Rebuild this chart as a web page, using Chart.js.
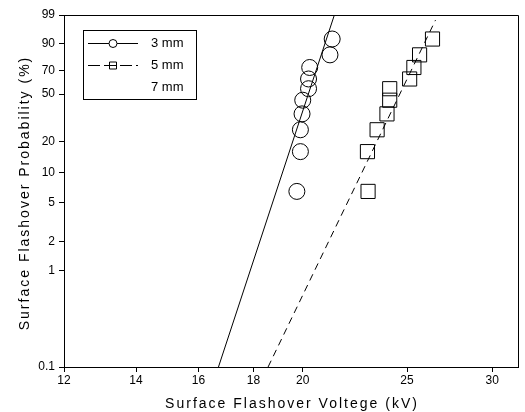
<!DOCTYPE html>
<html lang="en">
<head>
<meta charset="UTF-8" />
<title>Surface Flashover Probability</title>
<script src="https://cdn.jsdelivr.net/npm/chart.js"></script>
<style>
  html, body { margin: 0; padding: 0; background: #fff; }
  #wrap { width: 525px; height: 412px; }
</style>
</head>
<body>
<div id="wrap"><canvas id="chart" width="525" height="412"></canvas></div>
<script>
  const seriesNames = ['3 mm', '5 mm', '7 mm'];
  // flashover voltages (kV), in rank order, and their plotted probabilities (%)
  const volt3 = [19.75, 19.9, 19.9, 19.97, 20.0, 20.25, 20.25, 20.3, 21.2, 21.3];
  const volt5 = [23.0, 22.97, 23.45, 23.95, 24.09, 24.09, 25.14, 25.37, 25.68, 26.4];
  const rankProb = [6.5, 16, 25.5, 35, 45, 54.5, 63, 73, 83, 92.5];
  // fitted lines, end points
  const fit3Volt = [16.7, 21.4];
  const fit3Prob = [0.1, 99];
  const fit5Volt = [18.57, 26.57];
  const fit5Prob = [0.1, 98.3];

  const xTicks = [12, 14, 16, 18, 20, 25, 30];
  const yTicks = [0.1, 1, 2, 5, 10, 20, 50, 70, 90, 99];
  const xTitle = 'Surface Flashover Voltege (kV)';
  const yTitle = 'Surface Flashover Probability (%)';

  const FONT = '"Liberation Sans", Arial, sans-serif';

  // weibull probability axis
  const wb = p => Math.log(-Math.log(1 - p / 100));
  const pts = (vs, ps) => vs.map((v, i) => ({ x: v, y: wb(ps[i]) }));

  const frameAndText = {
    id: 'frameAndText',
    afterDraw(chart) {
      const { ctx, chartArea: a } = chart;
      ctx.save();
      ctx.strokeStyle = '#000';
      ctx.fillStyle = '#000';
      ctx.lineWidth = 1;
      // top + right of the frame
      const t = Math.round(a.top) + 0.5, r = Math.round(a.right) + 0.5;
      ctx.beginPath();
      ctx.moveTo(Math.round(a.left), t);
      ctx.lineTo(r, t);
      ctx.lineTo(r, Math.round(a.bottom));
      ctx.stroke();

      // axis titles (spaced out like the original)
      ctx.font = '14px ' + FONT;
      ctx.letterSpacing = '2px';
      ctx.textAlign = 'center';
      ctx.textBaseline = 'alphabetic';
      ctx.fillText(xTitle, (a.left + a.right) / 2 + 1, 408);
      ctx.save();
      ctx.translate(29, (a.top + a.bottom) / 2 + 2);
      ctx.rotate(-Math.PI / 2);
      ctx.fillText(yTitle, 0, 0);
      ctx.restore();

      // legend box
      ctx.letterSpacing = '0px';
      ctx.strokeRect(83.5, 30.5, 113, 69);
      const rows = [43, 65, 87];
      ctx.font = '13px ' + FONT;
      ctx.textAlign = 'left';
      ctx.textBaseline = 'middle';
      seriesNames.forEach((name, i) => {
        const y = rows[i];
        ctx.fillText(name, 151, y + 0.5);
        if (i > 1) return;
        ctx.beginPath();
        ctx.setLineDash(i === 1 ? [12, 4] : []);
        ctx.moveTo(88, y + 0.5);
        ctx.lineTo(138, y + 0.5);
        ctx.stroke();
        ctx.setLineDash([]);
        ctx.beginPath();
        if (i === 0) {
          ctx.arc(113, y + 0.5, 4, 0, Math.PI * 2);
          ctx.fillStyle = '#fff';
          ctx.fill();
          ctx.fillStyle = '#000';
        } else {
          ctx.rect(109.5, y - 3, 7, 7);
        }
        ctx.stroke();
      });
      ctx.restore();
    }
  };

  const tickFont = { family: FONT, size: 12 };

  new Chart(document.getElementById('chart'), {
    type: 'scatter',
    data: {
      datasets: [
        {
          label: seriesNames[0], data: pts(volt3, rankProb),
          pointStyle: 'circle', pointRadius: 8, borderColor: '#000', borderWidth: 1,
          backgroundColor: 'rgba(0,0,0,0)'
        },
        {
          label: seriesNames[1], data: pts(volt5, rankProb),
          pointStyle: 'rect', pointRadius: 10, borderColor: '#000', borderWidth: 1,
          backgroundColor: 'rgba(0,0,0,0)'
        },
        { label: seriesNames[2], data: [] },
        {
          label: seriesNames[0] + ' fit', data: pts(fit3Volt, fit3Prob), showLine: true,
          pointRadius: 0, borderColor: '#000', borderWidth: 1, fill: false
        },
        {
          label: seriesNames[1] + ' fit', data: pts(fit5Volt, fit5Prob), showLine: true,
          pointRadius: 0, borderColor: '#000', borderWidth: 1, borderDash: [7, 5], fill: false
        }
      ]
    },
    options: {
      responsive: false,
      animation: false,
      layout: { autoPadding: false, padding: { left: 0, right: 7, top: 15, bottom: 0 } },
      plugins: { legend: { display: false }, tooltip: { enabled: false } },
      scales: {
        x: {
          type: 'logarithmic', min: 12, max: 31.7,
          afterBuildTicks: s => { s.ticks = xTicks.map(v => ({ value: v })); },
          afterFit: s => { s.height = 45; },
          grid: { drawOnChartArea: false, drawTicks: true, tickLength: 5, color: '#000' },
          border: { display: true, color: '#000', width: 1 },
          ticks: {
            autoSkip: false, maxRotation: 0, padding: 1, color: '#000', font: tickFont,
            callback: v => String(v)
          }
        },
        y: {
          type: 'linear', min: wb(0.1), max: wb(99),
          afterBuildTicks: s => { s.ticks = yTicks.map(p => ({ value: wb(p) })); },
          afterFit: s => { s.width = 64; },
          grid: { drawOnChartArea: false, drawTicks: true, tickLength: 5, color: '#000' },
          border: { display: true, color: '#000', width: 1 },
          ticks: {
            autoSkip: false, padding: 4, color: '#000', font: tickFont,
            callback: (v, i) => String(yTicks[i])
          }
        }
      }
    },
    plugins: [frameAndText]
  });
</script>
</body>
</html>
